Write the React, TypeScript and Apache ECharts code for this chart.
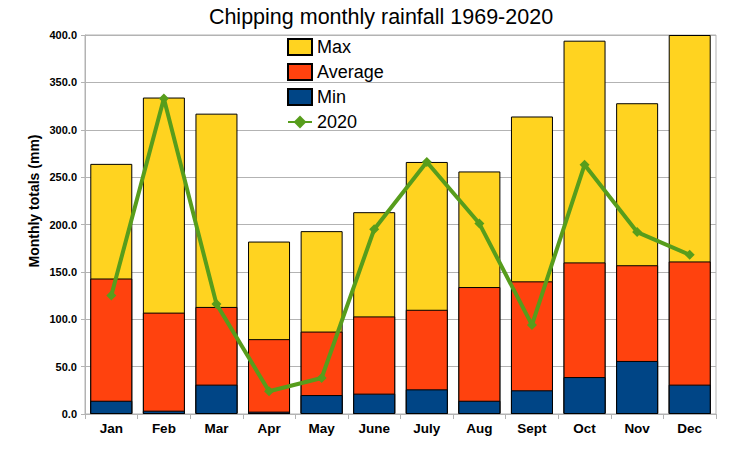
import React, { useEffect, useRef } from "react";
import * as echarts from "echarts";

const months = ["Jan", "Feb", "Mar", "Apr", "May", "June", "July", "Aug", "Sept", "Oct", "Nov", "Dec"];
const maxValues = [264, 334, 317, 182, 193, 213, 266, 256, 314, 394, 328, 400];
const avgValues = [143, 107, 113, 79, 87, 103, 110, 134, 140, 160, 157, 161];
const minValues = [14, 3.5, 31, 2.5, 20, 21.5, 26, 14, 25, 39, 56, 31];
const y2020 = [125, 333, 116, 24, 38, 195, 266, 201, 94, 263, 192, 168];

const FONT = "'Liberation Sans', Arial, sans-serif";

export default function App() {
  const ref = useRef<HTMLDivElement>(null);
  useEffect(() => {
    if (!ref.current) return;
    const chart = echarts.init(ref.current, null, { renderer: "svg" });
    const barBorder = { borderColor: "#000", borderWidth: 1 };
    chart.setOption({
      animation: false,
      backgroundColor: "#fff",
      title: {
        text: "Chipping monthly rainfall 1969-2020",
        left: 376,
        textAlign: "center",
        top: 1,
        textStyle: { fontFamily: FONT, fontSize: 21.5, fontWeight: "normal", color: "#000" },
      },
      legend: {
        orient: "vertical",
        left: 282,
        top: 33,
        itemWidth: 24,
        itemHeight: 16,
        itemGap: 7,
        textStyle: { fontFamily: FONT, fontSize: 18, color: "#000" },
        data: [
          { name: "Max", icon: "rect" },
          { name: "Average", icon: "rect" },
          { name: "Min", icon: "rect" },
          { name: "2020" },
        ],
      },
      graphic: [
        {
          type: "text",
          x: 34,
          y: 201,
          rotation: Math.PI / 2,
          style: {
            text: "Monthly totals (mm)",
            fontFamily: FONT,
            fontSize: 14,
            fontWeight: "bold",
            fill: "#000",
            align: "center",
            verticalAlign: "middle",
          },
        },
      ],
      grid: {
        left: 85,
        right: 40,
        top: 35,
        bottom: 37,
        show: true,
        borderColor: "#b3b3b3",
        borderWidth: 1,
      },
      xAxis: {
        type: "category",
        data: months,
        axisLine: { lineStyle: { color: "#b3b3b3" } },
        axisTick: { show: true, length: 5, lineStyle: { color: "#b3b3b3" } },
        axisLabel: { fontFamily: FONT, fontSize: 13.5, fontWeight: "bold", color: "#000", margin: 7 },
      },
      yAxis: {
        type: "value",
        min: 0,
        max: 400,
        interval: 50,
        axisLine: { show: true, lineStyle: { color: "#b3b3b3" } },
        axisTick: { show: true, length: 4, lineStyle: { color: "#b3b3b3" } },
        splitLine: { lineStyle: { color: "#b3b3b3" } },
        axisLabel: {
          fontFamily: FONT,
          fontSize: 11,
          fontWeight: "bold",
          color: "#000",
          margin: 8,
          formatter: (v: number) => v.toFixed(1),
        },
      },
      series: [
        {
          name: "Max",
          type: "bar",
          data: maxValues,
          barWidth: 42,
          barGap: "-100%",
          itemStyle: { color: "#FFD320", ...barBorder },
        },
        {
          name: "Average",
          type: "bar",
          data: avgValues,
          barWidth: 42,
          barGap: "-100%",
          itemStyle: { color: "#FF420E", ...barBorder },
        },
        {
          name: "Min",
          type: "bar",
          data: minValues,
          barWidth: 42,
          barGap: "-100%",
          itemStyle: { color: "#004586", ...barBorder },
        },
        {
          name: "2020",
          type: "line",
          data: y2020,
          symbol: "diamond",
          symbolSize: 10,
          lineStyle: { color: "#579D1C", width: 4 },
          itemStyle: { color: "#579D1C" },
          z: 5,
        },
      ],
    });
    return () => chart.dispose();
  }, []);
  return (
    <div
      ref={ref}
      style={{ position: "absolute", left: 0, top: 0, width: 756, height: 451 }}
    />
  );
}
